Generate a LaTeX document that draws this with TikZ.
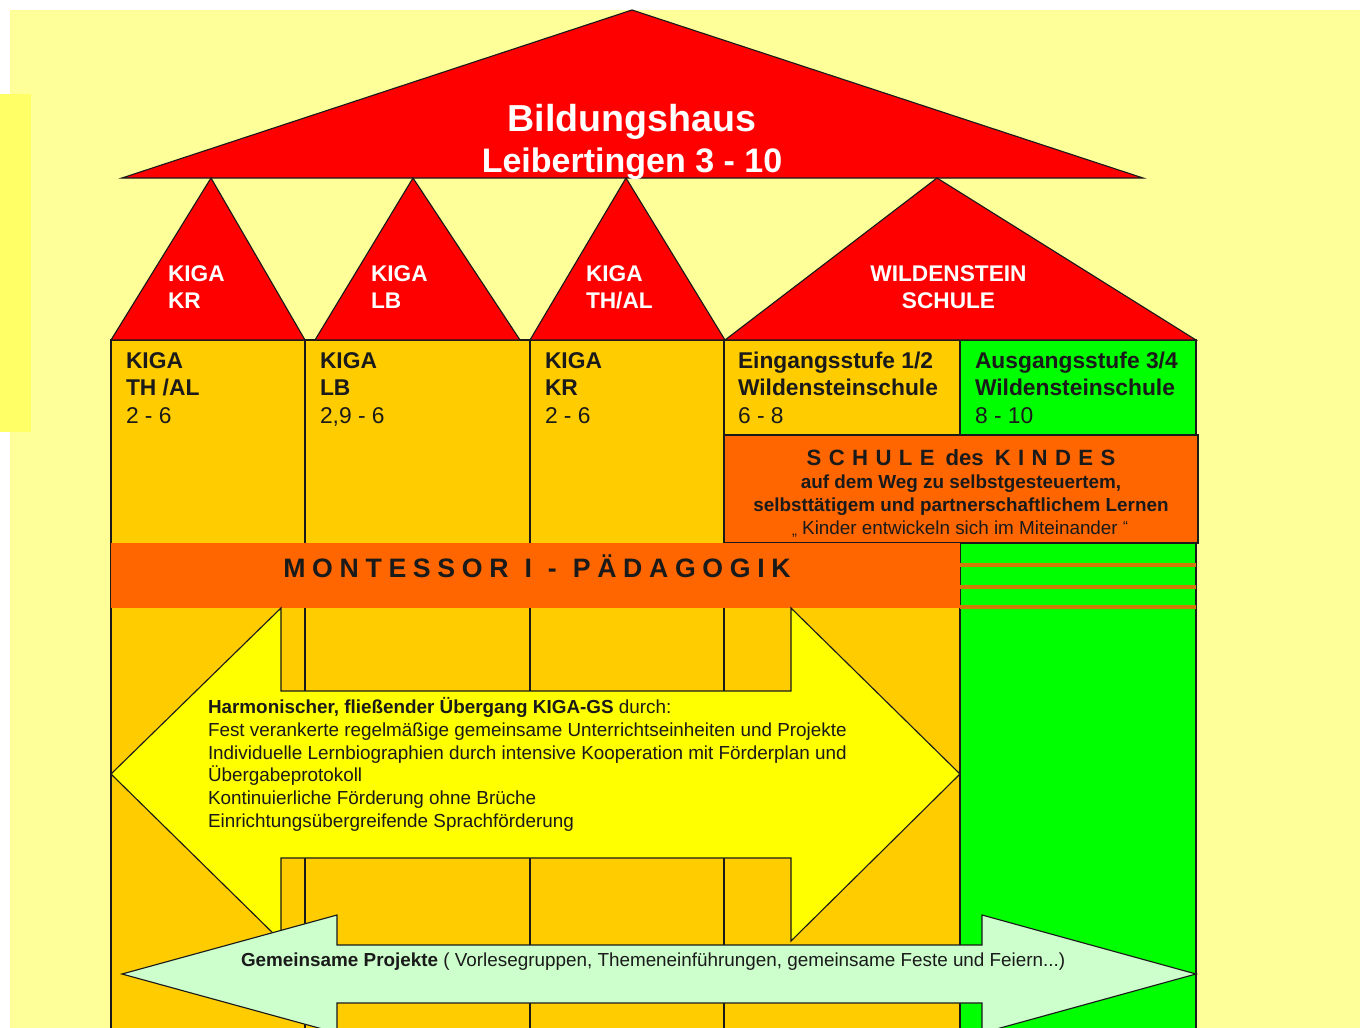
\documentclass[tikz,border=0pt]{standalone}
\usepackage{fontspec}
\setmainfont{Liberation Sans}
\definecolor{pale}{HTML}{FFFF99}
\definecolor{side}{HTML}{FFFF66}
\definecolor{roof}{HTML}{FF0000}
\definecolor{amber}{HTML}{FFCC00}
\definecolor{lime}{HTML}{00FF00}
\definecolor{band}{HTML}{FF6600}
\definecolor{stripe}{HTML}{D07A08}
\definecolor{arrowy}{HTML}{FFFF00}
\definecolor{mint}{HTML}{CCFFCC}
\definecolor{ink}{HTML}{1A1A1A}
\newcommand{\gp}{\kern5pt }
\newcommand{\wgp}{\kern12pt }
\tikzset{
  x=0.75pt,y=-0.75pt,
  shape line/.style={draw=ink,line width=0.85pt,line join=miter},
  txt/.style={inner sep=0pt,outer sep=0pt,anchor=base west,text=ink},
  ctr/.style={inner sep=0pt,outer sep=0pt,anchor=base,text=ink},
  head/.style={font=\fontsize{17.1pt}{20pt}\selectfont\bfseries},
  age/.style={font=\fontsize{17.1pt}{20pt}\selectfont},
  roofl/.style={font=\fontsize{17pt}{20pt}\selectfont\bfseries,text=white},
  body/.style={font=\fontsize{14.15pt}{16pt}\selectfont},
}
\begin{document}
\begin{tikzpicture}
\useasboundingbox (0,0) rectangle (1360,1028);
\begin{scope}
\clip (0,0) rectangle (1360,1028);
\fill[white] (0,0) rectangle (1360,1028);
\fill[pale] (10,10) rectangle (1360,1028);
\fill[side] (0,94) rectangle (31,432);
% columns
\filldraw[fill=amber,shape line] (111,340) rectangle (305,1040);
\filldraw[fill=amber,shape line] (305,340) rectangle (530,1040);
\filldraw[fill=amber,shape line] (530,340) rectangle (724,1040);
\filldraw[fill=amber,shape line] (724,340) rectangle (960,1040);
\filldraw[fill=lime,shape line] (960,340) rectangle (1196,1040);
% roofs
\filldraw[fill=roof,shape line] (122,178) -- (632,10) -- (1143,178) -- cycle;
\filldraw[fill=roof,shape line] (111,340) -- (211,178) -- (305,340) -- cycle;
\filldraw[fill=roof,shape line] (315,340) -- (413,178) -- (520,340) -- cycle;
\filldraw[fill=roof,shape line] (530,340) -- (626,178) -- (725,340) -- cycle;
\filldraw[fill=roof,shape line] (725,340) -- (937,178) -- (1196,340) -- cycle;
% bands
\filldraw[fill=band,shape line] (724,435) rectangle (1198,543);
\fill[band] (111,543) rectangle (960,608);
\fill[stripe] (960,563) rectangle (1196,567);
\fill[stripe] (960,584.5) rectangle (1196,588.5);
\fill[stripe] (960,605) rectangle (1196,609);
% arrows
\filldraw[fill=arrowy,shape line] (111,774) -- (281,608) -- (281,691) -- (791,691) -- (791,608) -- (960,774) -- (791,941) -- (791,858) -- (281,858) -- (281,941) -- cycle;
\filldraw[fill=mint,shape line] (122,974) -- (337,915) -- (337,945) -- (982,945) -- (982,915) -- (1196,974) -- (982,1033) -- (982,1003) -- (337,1003) -- (337,1033) -- cycle;
\end{scope}
% texts
\node[ctr,text=white,font=\fontsize{28.2pt}{30pt}\selectfont\bfseries] (t1) at (632,131) {Bildungshaus};
\node[ctr,text=white,font=\fontsize{25.5pt}{26pt}\selectfont\bfseries] (t2) at (632,172) {Leibertingen 3 - 10};
\node[txt,roofl] (r1a) at (168,281) {KIGA};
\node[txt,roofl] (r1b) at (168,308) {KR};
\node[txt,roofl] (r2a) at (371,281) {KIGA};
\node[txt,roofl] (r2b) at (371,308) {LB};
\node[txt,roofl] (r3a) at (586,281) {KIGA};
\node[txt,roofl] (r3b) at (586,308) {TH/AL};
\node[ctr,roofl] (r4a) at (948.5,281) {WILDENSTEIN};
\node[ctr,roofl] (r4b) at (948.5,308) {SCHULE};
\node[txt,head] (c1a) at (126,368) {KIGA};
\node[txt,head] (c1b) at (126,395) {TH /AL};
\node[txt,age] (c1c) at (126,423) {2 - 6};
\node[txt,head] (c2a) at (320,368) {KIGA};
\node[txt,head] (c2b) at (320,395) {LB};
\node[txt,age] (c2c) at (320,423) {2,9 - 6};
\node[txt,head] (c3a) at (545,368) {KIGA};
\node[txt,head] (c3b) at (545,395) {KR};
\node[txt,age] (c3c) at (545,423) {2 - 6};
\node[txt,head] (c4a) at (738,368) {Eingangsstufe 1/2};
\node[txt,head] (c4b) at (738,395) {Wildensteinschule};
\node[txt,age] (c4c) at (738,423) {6 - 8};
\node[txt,head] (c5a) at (975,368) {Ausgangsstufe 3/4};
\node[txt,head] (c5b) at (975,395) {Wildensteinschule};
\node[txt,age] (c5c) at (975,423) {8 - 10};
\node[ctr,font=\fontsize{16.6pt}{20pt}\selectfont\bfseries] (s1) at (961,465) {S\,\,C\,\,H\,\,U\,\,L\,\,E\,\,\,des\,\,\,K\,\,I\,\,N\,\,D\,\,E\,\,S};
\node[ctr,font=\fontsize{14.15pt}{16pt}\selectfont\bfseries] (s2) at (961,488) {auf dem Weg zu selbstgesteuertem,};
\node[ctr,font=\fontsize{14.15pt}{16pt}\selectfont\bfseries] (s3) at (961,511) {selbsttätigem und partnerschaftlichem Lernen};
\node[ctr,font=\fontsize{14.15pt}{16pt}\selectfont] (s4) at (960,534) {\raisebox{-1pt}{\fontsize{11pt}{11pt}\selectfont„} Kinder entwickeln sich im Miteinander {\fontsize{11pt}{11pt}\selectfont\raisebox{2pt}{“}}};
\node[ctr,font=\fontsize{20pt}{24pt}\selectfont\bfseries] (m1) at (537,577) {M\gp O\gp N\gp T\gp E\gp S\gp S\gp O\gp R\wgp I\wgp -\wgp P\gp Ä\gp D\gp A\gp G\gp O\gp G\gp I\gp K};
\node[txt,body] (h1) at (208,713) {\textbf{Harmonischer, fließender Übergang KIGA-GS} durch:};
\node[txt,body] (h2) at (208,736) {Fest verankerte regelmäßige gemeinsame Unterrichtseinheiten und Projekte};
\node[txt,body] (h3) at (208,759) {Individuelle Lernbiographien durch intensive Kooperation mit Förderplan und};
\node[txt,body] (h4) at (208,781) {Übergabeprotokoll};
\node[txt,body] (h5) at (208,804) {Kontinuierliche Förderung ohne Brüche};
\node[txt,body] (h6) at (208,827) {Einrichtungsübergreifende Sprachförderung};
\node[txt,body] (g1) at (241,966) {\textbf{Gemeinsame Projekte} ( Vorlesegruppen, Themeneinführungen, gemeinsame Feste und Feiern...)};
\end{tikzpicture}
\end{document}
